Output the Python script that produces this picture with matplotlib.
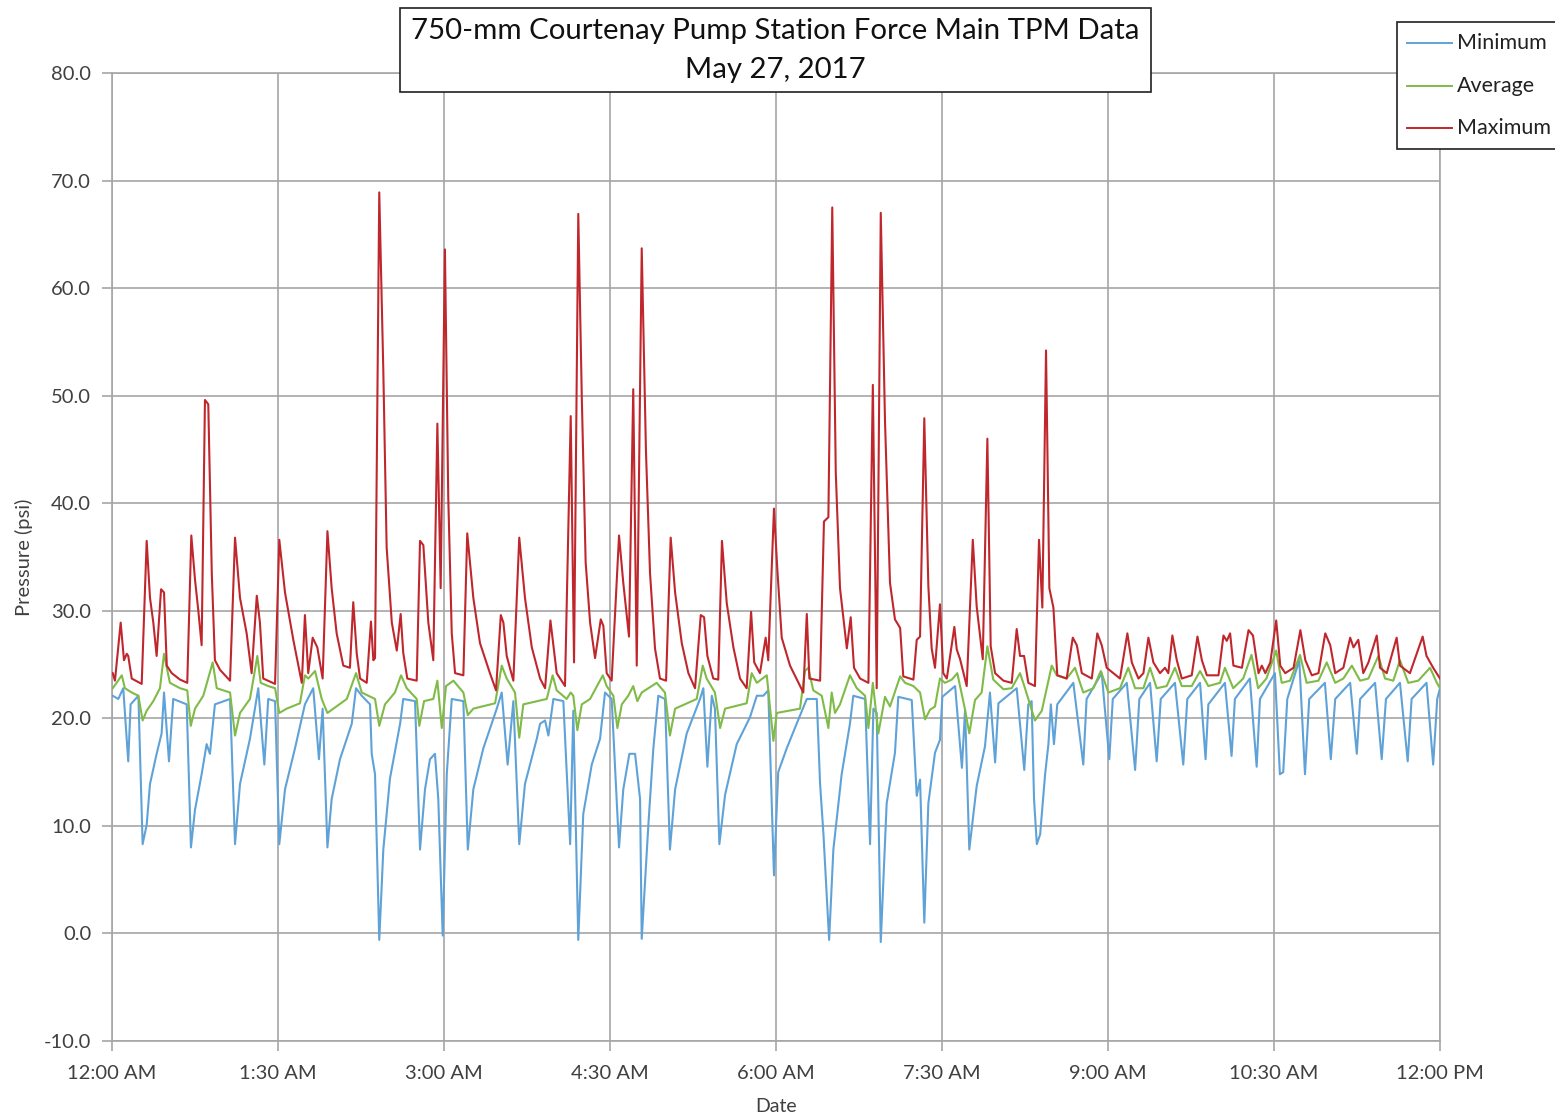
import matplotlib
matplotlib.use("Agg")
import matplotlib.pyplot as plt
from matplotlib.patches import Rectangle
from matplotlib.lines import Line2D

# ---- data: minutes after midnight, pressure in psi ----
max_t = [0.4, 1.6, 4.7, 6.5, 8.0, 8.8, 10.7, 16.1, 18.8, 20.6, 22.4, 24.2, 26.6, 28.2, 29.7, 32.4,
         36.9, 40.8, 43.0, 45.0, 46.8, 48.6, 50.4, 52.2, 54.1, 55.8, 58.6, 64.0, 66.7, 69.4, 73.0,
         75.7, 78.5, 80.2, 82.0, 88.4, 90.7, 93.8, 98.3, 102.9, 104.6, 106.4, 108.8, 111.3, 114.2,
         116.8, 119.1, 121.8, 125.4, 129.0, 130.8, 132.7, 134.5, 138.1, 140.4, 141.7, 142.6, 144.9,
         147.1, 148.9, 151.7, 154.4, 156.5, 157.9, 160.1, 165.2, 167.0, 168.8, 171.5, 174.2, 176.4,
         178.2, 180.5, 182.3, 184.2, 186.0, 190.5, 192.6, 195.9, 199.5, 204.9, 208.2, 210.8, 212.2,
         214.0, 217.6, 220.8, 223.9, 227.6, 232.1, 234.8, 237.7, 241.1, 245.6, 248.7, 250.5, 252.8,
         254.7, 256.8, 259.2, 261.9, 265.0, 266.4, 268.2, 270.9, 274.9, 277.2, 280.3, 282.6, 284.5,
         287.2, 289.5, 291.7, 294.4, 297.1, 300.4, 302.9, 305.3, 308.9, 312.5, 316.1, 319.2, 321.0,
         322.8, 326.0, 328.7, 330.7, 333.3, 336.9, 340.5, 344.1, 346.5, 348.2, 351.3, 354.4, 355.8,
         358.9, 360.7, 363.1, 367.6, 374.8, 376.7, 378.1, 383.9, 386.0, 388.4, 390.5, 392.4, 394.7,
         398.4, 400.5, 402.3, 405.6, 410.1, 412.5, 414.6, 416.8, 419.1, 421.8, 424.5, 427.3, 429.0,
         434.5, 436.3, 438.1, 440.4, 442.6, 444.4, 446.2, 448.9, 450.7, 452.6, 456.7, 458.0, 459.8,
         463.4, 466.7, 468.8, 472.1, 474.6, 476.4, 478.8, 483.3, 487.8, 490.5, 492.3, 494.5, 496.8,
         500.4, 502.6, 504.4, 506.4, 508.2, 510.4, 512.5, 517.6, 520.9, 523.1, 525.8, 531.2, 534.2,
         536.6, 539.3, 546.5, 550.5, 552.9, 556.5, 559.2, 561.9, 564.6, 568.2, 570.9, 572.7, 574.9,
         577.3, 580.0, 585.4, 588.5, 590.9, 593.6, 599.9, 602.6, 604.4, 606.2, 608.0, 612.6, 616.2,
         618.6, 621.6, 623.4, 625.3, 628.0, 631.2, 633.4, 636.1, 640.6, 644.3, 647.0, 650.5, 654.1,
         657.8, 660.5, 663.2, 667.6, 671.3, 673.1, 675.7, 678.4, 681.2, 685.7, 687.5, 691.1, 696.5,
         698.3, 703.7, 710.6, 712.7, 716.3, 720.0]
max_v = [24.2, 23.5, 28.9, 25.4, 26.0, 25.8, 23.7, 23.2, 36.5, 31.2, 28.9, 25.8, 32.0, 31.7, 24.9, 24.2,
         23.6, 23.3, 37.0, 32.9, 30.0, 26.8, 49.6, 49.2, 33.5, 25.4, 24.5, 23.5, 36.8, 31.2, 27.9,
         24.2, 31.4, 28.9, 23.7, 23.2, 36.6, 31.7, 27.3, 23.3, 29.6, 24.2, 27.5, 26.6, 23.7,
         37.4, 32.1, 27.9, 24.9, 24.7, 30.8, 26.0, 23.7, 23.3, 29.0, 25.4, 25.6, 68.9,
         52.3, 35.9, 28.9, 26.3, 29.7, 26.1, 23.7, 23.5, 36.5, 36.1, 28.9, 25.4, 47.4,
         32.1, 63.6, 40.6, 27.9, 24.2, 24.0, 37.2, 31.2, 27.0, 24.2, 22.6, 29.6, 28.9,
         25.8, 23.5, 36.8, 31.2, 26.6, 23.7, 22.8, 29.1, 24.2, 23.0, 48.1, 25.2, 66.9,
         49.9, 34.5, 28.9, 25.6, 29.2, 28.6, 24.2, 23.5, 37.0, 32.6, 27.6, 50.6, 24.9,
         63.7, 44.8, 33.5, 26.5, 23.7, 23.5, 36.8, 31.7, 27.0, 24.2, 22.8, 29.6, 29.4,
         25.8, 23.7, 23.6, 36.5, 30.7, 26.6, 23.7, 22.8, 29.9, 25.2, 24.2, 27.5, 25.4,
         39.5, 33.9, 27.5, 24.9, 22.4, 29.7, 23.7, 23.5, 38.3, 38.7, 67.5, 42.9, 32.1,
         26.5, 29.4, 24.7, 23.7, 23.3, 51.0, 22.8, 67.0, 47.6, 32.6, 29.2, 28.4, 23.9,
         23.6, 27.3, 27.6, 47.9, 32.3, 26.5, 24.7, 30.6, 24.2, 23.7, 28.5, 26.4, 25.5,
         23.0, 36.6, 30.4, 25.5, 46.0, 26.7, 24.2, 23.5, 23.3, 28.3, 25.8, 25.8, 23.3,
         23.0, 36.6, 30.3, 54.2, 32.1, 30.3, 24.0, 23.7, 27.5, 26.8, 24.2, 23.7, 27.9,
         26.8, 24.7, 23.7, 27.9, 25.2, 23.7, 24.2, 27.5, 25.2, 24.2, 24.7, 24.2, 27.7,
         25.4, 23.7, 24.0, 27.6, 25.4, 24.0, 24.0, 27.7, 27.2, 27.9, 24.9, 24.7, 28.2,
         27.7, 24.2, 24.9, 24.2, 25.2, 29.1, 24.9, 24.2, 24.7, 28.2, 25.4, 24.0, 24.2,
         27.9, 26.8, 24.2, 24.7, 27.5, 26.6, 27.3, 24.2, 25.2, 27.7, 24.7, 24.2, 27.5,
         24.9, 24.2, 27.6, 25.8, 24.7, 23.7]

avg_t = [0.4, 2.5, 5.3, 7.0, 10.7, 14.3, 16.6, 18.8, 22.4, 26.0, 28.2, 29.7, 31.4, 36.9, 40.8, 42.7,
         45.0, 49.5, 54.6, 56.8, 64.0, 66.7, 69.4, 74.8, 78.8, 80.6, 84.7, 88.4, 90.7, 94.7, 101.9,
         104.6, 106.4, 110.1, 113.7, 116.8, 120.0, 127.3, 132.3, 135.4, 142.6, 144.9, 148.0, 153.4,
         156.7, 159.8, 165.2, 166.6, 169.2, 174.2, 176.4, 178.8, 181.1, 185.1, 190.5, 192.9, 195.9,
         207.7, 211.3, 214.0, 218.5, 220.8, 223.0, 235.7, 238.9, 241.1, 246.5, 248.7, 250.1, 252.3,
         254.7, 259.2, 266.1, 268.2, 271.8, 274.0, 276.4, 279.9, 282.6, 284.8, 287.2, 295.3, 299.8,
         302.5, 305.3, 317.0, 320.3, 322.4, 326.9, 329.7, 332.4, 344.1, 346.8, 349.6, 355.0, 358.6,
         360.4, 373.0, 375.7, 377.5, 380.2, 384.8, 388.4, 390.2, 392.0, 394.7, 400.1, 403.8, 408.3,
         410.1, 412.5, 415.5, 419.1, 421.8, 427.3, 430.0, 434.5, 438.1, 440.8, 443.5, 446.2, 448.9,
         451.6, 455.3, 458.3, 462.5, 464.8, 467.9, 471.5, 474.6, 477.8, 483.3, 487.8, 492.3, 495.0,
         500.4, 504.1, 509.5, 512.2, 517.6, 522.1, 526.6, 532.1, 536.1, 540.2, 546.5, 551.0, 554.7,
         559.2, 562.8, 566.4, 571.8, 576.3, 580.0, 585.4, 589.9, 594.4, 600.7, 603.4, 607.9, 613.3,
         617.8, 621.4, 625.9, 631.2, 634.2, 638.7, 644.1, 647.7, 654.1, 658.6, 663.2, 667.6, 672.2,
         676.7, 681.2, 686.6, 690.2, 694.7, 698.3, 702.8, 708.2, 714.6, 718.3, 720.0]
avg_v = [22.8, 23.3, 24.0, 22.8, 22.4, 22.1, 19.8, 20.7, 21.6, 22.8, 26.0, 24.7, 23.3, 22.8, 22.6, 19.3,
         20.9, 22.1, 25.2, 22.8, 22.4, 18.4, 20.5, 21.8, 25.8, 23.3, 23.0, 22.8, 20.5, 20.9, 21.4,
         24.0, 23.7, 24.4, 21.8, 20.5, 20.9, 21.8, 24.2, 22.4, 21.8, 19.3, 21.3, 22.4,
         24.0, 22.8, 21.8, 19.3, 21.6, 21.8, 23.5, 19.1, 23.0, 23.5, 22.4, 20.3, 20.9,
         21.4, 24.9, 23.7, 22.4, 18.2, 21.3, 21.8, 24.0, 22.6, 21.8, 22.4, 22.1, 18.9,
         21.3, 21.8, 24.0, 23.0, 22.1, 19.1, 21.3, 22.1, 23.0, 21.6, 22.4, 23.3, 22.4,
         18.4, 20.9, 21.8, 24.9, 23.7, 22.4, 19.1, 20.9, 21.4, 24.2, 23.3, 24.0, 17.9,
         20.5, 20.9, 24.4, 24.7, 22.6, 22.1, 19.1, 22.4, 20.5, 21.3, 24.0, 22.8, 22.1,
         19.1, 23.3, 18.6, 22.0, 21.1, 23.9, 23.3, 23.0, 22.4, 19.9, 20.8, 21.1, 23.7,
         23.3, 23.6, 24.2, 20.8, 18.6, 21.7, 22.4, 26.7, 23.6, 22.7, 22.8, 24.2, 22.8,
         19.8, 20.7, 24.9, 24.0, 23.7, 24.7, 22.4, 22.8, 24.4, 22.4, 22.8, 24.7, 22.8,
         22.8, 24.7, 22.8, 23.0, 24.7, 23.0, 23.0, 24.4, 23.0, 23.3, 24.7, 22.8, 23.7,
         25.9, 22.8, 23.7, 26.3, 23.3, 23.5, 25.9, 23.3, 23.5, 25.2, 23.3, 23.7, 24.9,
         23.5, 23.7, 25.8, 23.7, 23.5, 25.4, 23.3, 23.5, 24.7, 23.3, 22.8]

min_t = [0.4, 3.4, 6.1, 8.8, 10.1, 14.3, 16.6, 18.8, 20.6, 24.2, 26.9, 28.2, 30.9, 33.2, 40.5, 42.8,
         45.0, 48.6, 51.3, 53.1, 55.8, 64.0, 66.7, 69.4, 74.8, 79.3, 82.6, 84.7, 88.4, 90.7, 93.8,
         99.2, 104.6, 109.1, 112.2, 114.2, 116.8, 119.1, 123.6, 130.0, 132.3, 135.4, 139.9, 140.8,
         142.6, 144.9, 147.1, 150.7, 156.2, 157.9, 164.3, 167.0, 169.7, 172.4, 175.1, 176.9, 179.3,
         181.5, 184.2, 190.5, 192.9, 195.9, 201.3, 208.6, 211.3, 214.5, 217.6, 220.8, 223.9, 230.3,
         232.1, 234.8, 236.6, 239.3, 244.7, 248.4, 250.1, 252.8, 255.5, 260.1, 264.6, 267.3, 270.9,
         274.9, 277.2, 280.5, 283.6, 286.3, 287.2, 290.8, 293.5, 296.2, 299.8, 302.5, 305.3, 311.6,
         318.8, 320.6, 322.8, 325.2, 326.9, 329.3, 332.4, 338.7, 345.9, 349.6, 353.1, 355.8, 358.9,
         361.2, 365.8, 371.2, 376.7, 382.1, 383.9, 385.7, 388.8, 391.1, 395.6, 400.1, 401.9, 408.3,
         411.0, 412.8, 414.6, 416.8, 420.0, 424.5, 426.3, 433.6, 436.3, 438.1, 440.4, 442.6, 446.2,
         448.9, 450.2, 457.1, 460.8, 462.5, 464.8, 468.8, 473.3, 476.0, 478.8, 480.6, 490.5, 494.6,
         496.8, 498.6, 499.9, 501.4, 503.2, 505.9, 507.7, 509.0, 510.7, 512.5, 521.2, 526.6, 528.4,
         536.6, 540.7, 542.6, 550.2, 554.7, 557.0, 562.8, 566.4, 568.6, 576.3, 580.8, 583.0, 589.9,
         592.9, 594.4, 603.4, 607.0, 608.8, 616.9, 620.6, 622.4, 630.5, 633.2, 635.0, 637.2, 643.7,
         646.8, 649.1, 657.6, 660.8, 663.2, 671.3, 674.9, 676.7, 684.8, 688.4, 690.7, 698.3, 702.5,
         704.6, 712.7, 716.3, 718.5, 720.0]
min_v = [22.1, 21.8, 22.8, 16.0, 21.3, 22.1, 8.3, 10.1, 13.9, 16.7, 18.6, 22.4, 16.0, 21.8, 21.3, 8.0,
         11.5, 14.8, 17.6, 16.7, 21.3, 21.8, 8.3, 13.9, 18.1, 22.8, 15.7, 21.8, 21.6, 8.3, 13.4,
         17.2, 21.3, 22.8, 16.2, 20.9, 8.0, 12.5, 16.2, 19.5, 22.8, 22.1, 21.3, 16.7,
         14.8, -0.6, 7.8, 14.4, 19.5, 21.8, 21.6, 7.8, 13.4, 16.2, 16.7, 12.5, -0.2,
         14.8, 21.8, 21.6, 7.8, 13.4, 17.2, 20.9, 22.4, 15.7, 21.6, 8.3, 13.9, 18.1,
         19.5, 19.8, 18.4, 21.8, 21.6, 8.3, 20.7, -0.6, 11.1, 15.7, 18.1, 22.4, 21.8,
         8.0, 13.4, 16.7, 16.7, 12.5, -0.5, 10.1, 17.2, 22.1, 21.8, 7.8, 13.4, 18.6,
         21.8, 22.8, 15.5, 22.1, 20.9, 8.3, 12.9, 17.6, 20.1, 22.1, 22.1, 22.6, 5.4,
         15.0, 17.2, 19.5, 21.8, 21.8, 13.9, 9.3, -0.6, 7.8, 14.8, 19.5, 22.1, 21.8,
         8.3, 20.9, 20.5, -0.8, 12.1, 16.8, 22.0, 21.7, 12.8, 14.3, 1.0, 12.1, 16.8,
         18.0, 22.0, 23.0, 15.4, 20.8, 7.8, 13.7, 17.4, 22.4, 15.9, 21.4, 22.8, 15.2,
         21.3, 21.6, 12.5, 8.3, 9.2, 14.8, 17.6, 21.3, 17.6, 21.3, 23.3, 15.7, 21.8,
         24.2, 16.2, 21.8, 23.3, 15.2, 21.8, 23.3, 16.0, 21.8, 23.3, 15.7, 21.8, 23.3,
         16.2, 21.3, 23.3, 16.5, 21.8, 23.7, 15.5, 21.8, 24.2, 14.8, 15.0, 21.8, 25.4,
         14.8, 21.8, 23.3, 16.2, 21.8, 23.3, 16.7, 21.8, 23.3, 16.2, 21.8, 23.3, 16.0,
         21.8, 23.3, 15.7, 21.8, 22.8]

series = [
    ("Minimum", min_t, min_v, "#5fa2d8"),
    ("Average", avg_t, avg_v, "#80bb48"),
    ("Maximum", max_t, max_v, "#c0272d"),
]

tick_minutes = [0, 90, 180, 270, 360, 450, 540, 630, 720]
tick_labels = ["12:00 AM", "1:30 AM", "3:00 AM", "4:30 AM", "6:00 AM",
               "7:30 AM", "9:00 AM", "10:30 AM", "12:00 PM"]
y_ticks = [-10, 0, 10, 20, 30, 40, 50, 60, 70, 80]

title_lines = ["750-mm Courtenay Pump Station Force Main TPM Data", "May 27, 2017"]

# ---- figure ----
plt.rcParams["font.family"] = ["Lato", "DejaVu Sans"]
W, H = 1555, 1119
fig = plt.figure(figsize=(W / 100, H / 100), dpi=100)
ax = fig.add_axes([112 / W, 1 - 1041 / H, (1440 - 112) / W, (1041 - 73) / H])

text_col = "#404040"
grid_col = "#a6a6a6"

for name, t, v, col in series:
    ax.plot(t, v, color=col, lw=1.5, solid_joinstyle="round", zorder=3)

ax.set_xlim(0, 720)
ax.set_ylim(-10, 80)
ax.set_xticks(tick_minutes)
ax.set_xticklabels(tick_labels)
ax.set_yticks(y_ticks)
ax.set_yticklabels([f"{y:.1f}" for y in y_ticks])
ax.grid(True, color=grid_col, lw=1.2, zorder=0)
for s in ax.spines.values():
    s.set_color(grid_col)
    s.set_linewidth(1.2)
ax.tick_params(axis="both", colors=grid_col, labelcolor=text_col, labelsize=14.5,
               length=7, width=1.2, direction="out")
ax.tick_params(axis="x", pad=10)
ax.tick_params(axis="y", pad=8)
ax.set_xlabel("Date", fontsize=14, color=text_col, labelpad=12)
ax.set_ylabel("Pressure (psi)", fontsize=14.5, color=text_col, labelpad=8)

# title box
fig.patches.append(Rectangle((400 / W, 1 - 92 / H), (1151 - 400) / W, (92 - 8) / H,
                             transform=fig.transFigure, facecolor="white",
                             edgecolor="#202020", lw=1.2, zorder=5))
fig.text(775.5 / W, 1 - 31 / H, title_lines[0], ha="center", va="center",
         fontsize=21.2, color="#111111", zorder=6)
fig.text(775.5 / W, 1 - 70 / H, title_lines[1], ha="center", va="center",
         fontsize=21.2, color="#111111", zorder=6)

# legend box
fig.patches.append(Rectangle((1397 / W, 1 - 149 / H), (1600 - 1397) / W, (149 - 22) / H,
                             transform=fig.transFigure, facecolor="white",
                             edgecolor="#202020", lw=1.2, zorder=5))
for (name, t, v, col), yy in zip(series, [43, 86, 128]):
    fig.lines.append(Line2D([1407 / W, 1452 / W], [1 - yy / H, 1 - yy / H],
                            transform=fig.transFigure, color=col, lw=1.4, zorder=6))
    fig.text(1457 / W, 1 - yy / H, name, ha="left", va="center", fontsize=15.5,
             color="#222222", zorder=6)

fig.savefig("out.png", dpi=100, facecolor="white")
